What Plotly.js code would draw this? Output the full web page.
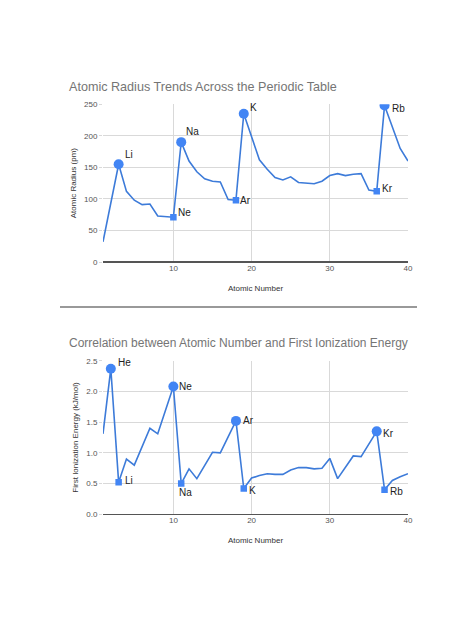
<!DOCTYPE html>
<html>
<head>
<meta charset="utf-8">
<script src="https://cdn.plot.ly/plotly-3.0.1.min.js"></script>
<style>html,body{margin:0;padding:0;background:#fff;}#chart{width:474px;height:632px;}</style>
</head>
<body>
<div id="chart"></div>
<script>
// ---- data ----
const atomicNumber = [1,2,3,4,5,6,7,8,9,10,11,12,13,14,15,16,17,18,19,20,21,22,23,24,25,26,27,28,29,30,31,32,33,34,35,36,37,38,39,40];
const atomicRadius = [32,94,155,112,98,91,92,73,72,71,190,160,143,132,128,127,99,98,235,197,162,147,134,130,135,126,125,124,128,137,140,137,139,140,114,112,248,215,180,160];
const ionizationEnergy = [1.31,2.37,0.52,0.90,0.80,1.09,1.40,1.31,1.68,2.08,0.50,0.74,0.58,0.79,1.01,1.00,1.25,1.52,0.42,0.59,0.63,0.66,0.65,0.65,0.72,0.76,0.76,0.74,0.75,0.91,0.58,0.76,0.95,0.94,1.14,1.35,0.40,0.55,0.61,0.66];

const radiusPeakSymbols = ['Li','Na','K','Rb'];
const radiusPeakNumbers = [3,11,19,37];
const radiusTroughSymbols = ['Ne','Ar','Kr'];
const radiusTroughNumbers = [10,18,36];

const ionPeakSymbols = ['He','Ne','Ar','Kr'];
const ionPeakNumbers = [2,10,18,36];
const ionTroughSymbols = ['Li','Na','K','Rb'];
const ionTroughNumbers = [3,11,19,37];

const chart1Title = 'Atomic Radius Trends Across the Periodic Table';
const chart2Title = 'Correlation between Atomic Number and First Ionization Energy';
const xTitle = 'Atomic Number';
const y1Title = 'Atomic Radius (pm)';
const y2Title = 'First Ionization Energy (kJ/mol)';

// ---- styles ----
const W = 474, H = 632;
const FONT = 'Liberation Sans, Arial, sans-serif';
const lineColor = '#3d7bd9';
const markerColor = '#4285f4';
const gridColor = '#d9d9d9';

const lookup = (arr, nums) => nums.map(n => arr[atomicNumber.indexOf(n)]);

// label offsets in px [dx, dy(up positive)]
const radiusPeakShift = {Li:[4,10], Na:[3,11], K:[4,6], Rb:[5,-3]};
const radiusTroughShift = {Ne:[3,5], Ar:[2,0], Kr:[3,3]};
const ionPeakShift = {He:[5,6], Ne:[4,0], Ar:[5,0], Kr:[4,-2]};
const ionTroughShift = {Li:[4,2], Na:[-4,-9], K:[3,-2], Rb:[3,-2]};

const traces = [
  {x: atomicNumber, y: atomicRadius, xaxis:'x', yaxis:'y', type:'scatter', mode:'lines',
   line:{color:lineColor, width:1.6}, hoverinfo:'skip'},
  {x: radiusPeakNumbers, y: lookup(atomicRadius, radiusPeakNumbers), xaxis:'x', yaxis:'y', type:'scatter', mode:'markers',
   marker:{symbol:'circle', size:10, color:markerColor}},
  {x: radiusTroughNumbers, y: lookup(atomicRadius, radiusTroughNumbers), xaxis:'x', yaxis:'y', type:'scatter', mode:'markers',
   marker:{symbol:'square', size:6.5, color:markerColor}},
  {x: atomicNumber, y: ionizationEnergy, xaxis:'x2', yaxis:'y2', type:'scatter', mode:'lines',
   line:{color:lineColor, width:1.6}, hoverinfo:'skip'},
  {x: ionPeakNumbers, y: lookup(ionizationEnergy, ionPeakNumbers), xaxis:'x2', yaxis:'y2', type:'scatter', mode:'markers',
   marker:{symbol:'circle', size:10, color:markerColor}},
  {x: ionTroughNumbers, y: lookup(ionizationEnergy, ionTroughNumbers), xaxis:'x2', yaxis:'y2', type:'scatter', mode:'markers',
   marker:{symbol:'square', size:6.5, color:markerColor}}
];

function labels(symbols, nums, series, shifts, xr, yr) {
  const ys = lookup(series, nums);
  return symbols.map((s, i) => ({
    x: nums[i], y: ys[i], xref: xr, yref: yr, text: s, showarrow: false,
    xanchor: 'left', yanchor: 'middle', xshift: shifts[s][0], yshift: shifts[s][1],
    font: {family: FONT, size: 10, color: '#222'}
  }));
}

const annotations = [].concat(
  labels(radiusPeakSymbols, radiusPeakNumbers, atomicRadius, radiusPeakShift, 'x', 'y'),
  labels(radiusTroughSymbols, radiusTroughNumbers, atomicRadius, radiusTroughShift, 'x', 'y'),
  labels(ionPeakSymbols, ionPeakNumbers, ionizationEnergy, ionPeakShift, 'x2', 'y2'),
  labels(ionTroughSymbols, ionTroughNumbers, ionizationEnergy, ionTroughShift, 'x2', 'y2'),
  [
    {text: chart1Title, xref:'paper', yref:'paper', x: 67/W, y: 1 - 87/H, xanchor:'left', yanchor:'middle',
     showarrow:false, font:{family:FONT, size:12.6, color:'#757575'}},
    {text: chart2Title, xref:'paper', yref:'paper', x: 67/W, y: 1 - 343/H, xanchor:'left', yanchor:'middle',
     showarrow:false, font:{family:FONT, size:12, color:'#757575'}}
  ]
);

const xCommon = {
  range: [1, 40], tick0: 0, dtick: 10, showgrid: true, gridcolor: gridColor, gridwidth: 1,
  zeroline: false, showline: false, ticks: '', automargin: false,
  tickfont: {family: FONT, size: 8, color: '#555'},
  title: {text: xTitle, font: {family: FONT, size: 8, color: '#333'}, standoff: 13}
};
const yCommon = {
  showgrid: true, gridcolor: gridColor, gridwidth: 1, zeroline: true, zerolinecolor: '#555', zerolinewidth: 1.5,
  showline: false, ticks: 'outside', ticklen: 3, tickcolor: gridColor, automargin: false,
  tickfont: {family: FONT, size: 8, color: '#555'}
};

const layout = {
  width: W, height: H, margin: {l:0, r:0, t:0, b:0}, showlegend: false,
  paper_bgcolor: '#fff', plot_bgcolor: '#fff', font: {family: FONT},
  xaxis: Object.assign({}, xCommon, {domain: [103/W, 408/W], anchor: 'y'}),
  yaxis: Object.assign({}, yCommon, {domain: [1 - 262/H, 1 - 104.3/H], anchor: 'x', range: [0, 250], dtick: 50,
    title: {text: y1Title, font: {family: FONT, size: 8, color: '#333'}, standoff: 6}}),
  xaxis2: Object.assign({}, xCommon, {domain: [103/W, 408/W], anchor: 'y2'}),
  yaxis2: Object.assign({}, yCommon, {domain: [1 - 514.3/H, 1 - 360.7/H], anchor: 'x2', range: [0, 2.5], dtick: 0.5,
    tickformat: '.1f',
    title: {text: y2Title, font: {family: FONT, size: 8, color: '#333'}, standoff: 6}}),
  annotations: annotations,
  shapes: [
    {type:'line', xref:'paper', yref:'paper', x0: 60/W, x1: 417/W, y0: 1 - 307/H, y1: 1 - 307/H,
     line: {color:'#777', width: 1.5}}
  ]
};

Plotly.newPlot('chart', traces, layout, {displayModeBar: false, staticPlot: true});
</script>
</body>
</html>
